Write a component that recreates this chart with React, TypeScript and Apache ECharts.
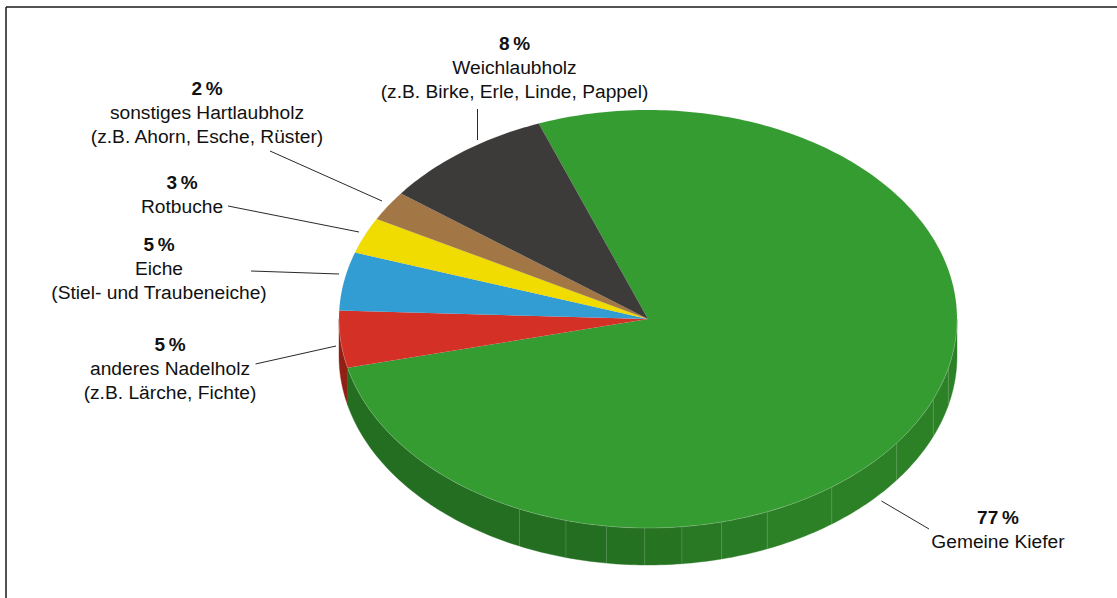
import React, { useEffect, useRef } from "react";
import * as echarts from "echarts";

const categories = ["Gemeine Kiefer", "anderes Nadelholz", "Eiche", "Rotbuche", "sonstiges Hartlaubholz", "Weichlaubholz"];
const sliceValues = [77, 4.4, 4.5, 2.8, 2.3, 9.0];
const percentLabels = ["77\u2009%", "5\u2009%", "5\u2009%", "3\u2009%", "2\u2009%", "8\u2009%"];
const subLabels = ["", "(z.B. Lärche, Fichte)", "(Stiel- und Traubeneiche)", "", "(z.B. Ahorn, Esche, Rüster)", "(z.B. Birke, Erle, Linde, Pappel)"];
const topColors = ["#349c30", "#d43026", "#319dd2", "#f0dc00", "#a37645", "#3d3b39"];
const seamAngles = [204.6, 195.4, 187.7, 180.6, 173.7, 166.2, 157.3, 143.5, 126.4, 112.6, 103.6];

const CX = 648, CY = 319, RX = 309, RY = 209, DEPTH = 37, START = -20.7;
const labelLayout = [
  { x: 998, y: 517.5, line: [881.5, 501, 929, 529] },
  { x: 170, y: 344.5, line: [255.5, 364, 336, 346] },
  { x: 159, y: 244.5, line: [251, 271, 339, 274] },
  { x: 182, y: 182.5, line: [228, 206, 359, 232] },
  { x: 207, y: 88.5, line: [270, 151, 382, 201] },
  { x: 514.5, y: 43.5, line: [477.5, 109, 477.5, 140] },
];

const pt = (deg: number, dy = 0): number[] => {
  const a = (deg * Math.PI) / 180;
  return [CX + RX * Math.sin(a), CY - RY * Math.cos(a) + dy];
};
const arc = (a0: number, a1: number, dy = 0): number[][] => {
  const n = Math.max(2, Math.ceil(Math.abs(a1 - a0) / 1));
  const out: number[][] = [];
  for (let i = 0; i <= n; i++) out.push(pt(a0 + ((a1 - a0) * i) / n, dy));
  return out;
};
const hex = (c: number[]) => `rgb(${c.map((v) => Math.round(v)).join(",")})`;
const greenSide = (deg: number) => {
  const t = Math.min(1, Math.max(0, (deg - 150) / 40));
  const a = [44, 129, 39], b = [35, 110, 32];
  return hex(a.map((v, i) => v + (b[i] - v) * t));
};

const total = sliceValues.reduce((s, v) => s + v, 0);
const starts: number[] = [];
sliceValues.reduce((acc, v) => { starts.push(acc); return acc + (v / total) * 360; }, START);

function renderSlice(params: any, api: any) {
  const i = params.dataIndex;
  const sweep = (api.value(0) / total) * 360;
  const a0 = starts[i], a1 = a0 + sweep;
  const children: any[] = [];
  const sLo = Math.max(a0, 90), sHi = Math.min(a1, 270);
  if (sHi > sLo) {
    const edges = [sLo, ...(i === 0 ? seamAngles.slice().reverse() : []), sHi];
    for (let k = 0; k < edges.length - 1; k++) {
      const e0 = edges[k], e1 = edges[k + 1];
      const fill = i === 0 ? greenSide((e0 + e1) / 2) : "#8f2013";
      children.push({
        type: "polygon",
        shape: { points: [...arc(e0, e1), ...arc(e1, e0, DEPTH)] },
        style: { fill, stroke: fill, lineWidth: 0.4 },
      });
      if (i === 0 && k > 0) {
        const p = pt(e0);
        children.push({
          type: "line",
          shape: { x1: p[0], y1: p[1], x2: p[0], y2: p[1] + DEPTH },
          style: { stroke: "rgba(255,255,255,0.2)", lineWidth: 0.7 },
        });
      }
    }
  }
  children.push({
    type: "polygon",
    shape: { points: [[CX, CY], ...arc(a0, a1)] },
    style: { fill: topColors[i], stroke: "rgba(150,150,150,0.2)", lineWidth: 0.4 },
  });
  if (sHi > sLo) {
    children.push({
      type: "polyline",
      shape: { points: arc(sLo, sHi) },
      style: { fill: "none", stroke: "rgba(255,255,255,0.3)", lineWidth: 0.6 },
    });
  }
  return { type: "group", children };
}

const font = '"Liberation Sans", Arial, sans-serif';

export default function App() {
  const ref = useRef<HTMLDivElement>(null);
  useEffect(() => {
    document.body.style.margin = "0";
    const chart = echarts.init(ref.current!, undefined, { renderer: "svg" });
    const g: any[] = [
      { type: "line", shape: { x1: 6, y1: 7, x2: 1117, y2: 7 }, style: { stroke: "#1a1a1a", lineWidth: 1.5 }, silent: true },
      { type: "line", shape: { x1: 6, y1: 7, x2: 6, y2: 598 }, style: { stroke: "#1a1a1a", lineWidth: 1.5 }, silent: true },
    ];
    categories.forEach((name, i) => {
      const l = labelLayout[i];
      g.push({
        type: "line",
        shape: { x1: l.line[0], y1: l.line[1], x2: l.line[2], y2: l.line[3] },
        style: { stroke: "#111", lineWidth: 0.9 },
      });
      g.push({ type: "text", x: l.x, y: l.y, style: { text: percentLabels[i], font: `bold 19px ${font}`, fill: "#111", align: "center", verticalAlign: "middle" } });
      g.push({ type: "text", x: l.x, y: l.y + 24, style: { text: name, font: `19.2px ${font}`, fill: "#111", align: "center", verticalAlign: "middle" } });
      if (subLabels[i]) g.push({ type: "text", x: l.x, y: l.y + 48, style: { text: subLabels[i], font: `19.2px ${font}`, fill: "#111", align: "center", verticalAlign: "middle" } });
    });
    chart.setOption({
      animation: false,
      backgroundColor: "#fff",
      series: [{
        type: "custom",
        coordinateSystem: "none",
        renderItem: renderSlice,
        data: sliceValues.map((v, i) => ({ name: categories[i], value: [v] })),
        silent: true,
      }],
      graphic: { elements: g },
    });
    return () => chart.dispose();
  }, []);
  return <div ref={ref} style={{ position: "absolute", left: 0, top: 0, width: 1117, height: 598 }} />;
}
